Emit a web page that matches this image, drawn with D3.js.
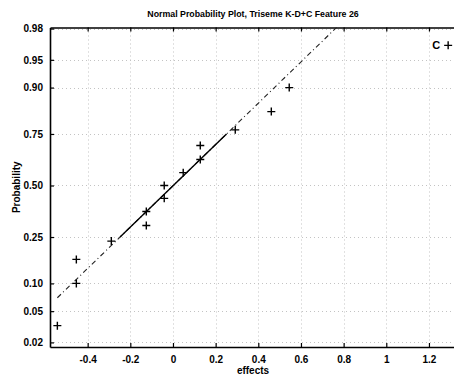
<!DOCTYPE html>
<html>
<head>
<meta charset="utf-8">
<script src="https://cdn.jsdelivr.net/npm/d3@7"></script>
<style>
  html, body { margin: 0; padding: 0; background: #fff; }
  svg { display: block; }
  text { font-family: "Liberation Sans", Arial, Helvetica, sans-serif; fill: #000; }
</style>
</head>
<body>
<svg id="chart" width="454" height="377"></svg>
<script>
// ---- data ----
const effects = [-0.542, -0.453, -0.453, -0.289, -0.125, -0.125, -0.041, -0.041,
                 0.048, 0.128, 0.128, 0.292, 0.461, 0.545, 1.29];
const probabilities = [0.0333, 0.1, 0.1667, 0.2333, 0.3, 0.3667, 0.4333, 0.5,
                       0.5667, 0.6333, 0.7, 0.7667, 0.8333, 0.9, 0.9667];
const pointLabels = ["", "", "", "", "", "", "", "", "", "", "", "", "", "", "C"];
const xTicks = [-0.4, -0.2, 0, 0.2, 0.4, 0.6, 0.8, 1, 1.2];
const xTickLabels = ["-0.4", "-0.2", "0", "0.2", "0.4", "0.6", "0.8", "1", "1.2"];
const yTicks = [0.02, 0.05, 0.10, 0.25, 0.50, 0.75, 0.90, 0.95, 0.98];
const yTickLabels = ["0.02", "0.05", "0.10", "0.25", "0.50", "0.75", "0.90", "0.95", "0.98"];
const title = "Normal Probability Plot, Triseme K-D+C Feature 26";
const xLabel = "effects";
const yLabel = "Probability";

// inverse normal CDF (Acklam)
function norminv(p) {
  const a = [-3.969683028665376e+01, 2.209460984245205e+02, -2.759285104469687e+02, 1.383577518672690e+02, -3.066479806614716e+01, 2.506628277459239e+00];
  const b = [-5.447609879822406e+01, 1.615858368580409e+02, -1.556989798598866e+02, 6.680131188771972e+01, -1.328068155288572e+01];
  const c = [-7.784894002430293e-03, -3.223964580411365e-01, -2.400758277161838e+00, -2.549732539343734e+00, 4.374664141464968e+00, 2.938163982698783e+00];
  const d = [7.784695709041462e-03, 3.224671290700398e-01, 2.445134137142996e+00, 3.754408661907416e+00];
  const pl = 0.02425, ph = 1 - pl;
  let q, r;
  if (p < pl) { q = Math.sqrt(-2 * Math.log(p)); return (((((c[0]*q+c[1])*q+c[2])*q+c[3])*q+c[4])*q+c[5]) / ((((d[0]*q+d[1])*q+d[2])*q+d[3])*q+1); }
  if (p > ph) { q = Math.sqrt(-2 * Math.log(1 - p)); return -(((((c[0]*q+c[1])*q+c[2])*q+c[3])*q+c[4])*q+c[5]) / ((((d[0]*q+d[1])*q+d[2])*q+d[3])*q+1); }
  q = p - 0.5; r = q * q;
  return (((((a[0]*r+a[1])*r+a[2])*r+a[3])*r+a[4])*r+a[5])*q / (((((b[0]*r+b[1])*r+b[2])*r+b[3])*r+b[4])*r+1);
}

const svg = d3.select("#chart");
const L = 50, R = 456, T = 27.5, B = 347;

const x = d3.scaleLinear().domain([-0.5765, 1.3268]).range([L, R]);
const y = d3.scaleLinear().domain([-2.114, 2.068]).range([B, T]);

// clip
svg.append("defs").append("clipPath").attr("id", "plotclip")
  .append("rect").attr("x", L).attr("y", T).attr("width", R - L).attr("height", B - T);

// grid (dotted)
const grid = svg.append("g").attr("stroke", "#888").attr("stroke-width", 1)
  .attr("stroke-dasharray", "1,3").attr("opacity", 0.5);
grid.selectAll("line.gx").data(xTicks).join("line")
  .attr("x1", d => Math.round(x(d)) + 0.5).attr("x2", d => Math.round(x(d)) + 0.5)
  .attr("y1", T).attr("y2", B);
grid.selectAll("line.gy").data(yTicks).join("line")
  .attr("y1", d => Math.round(y(norminv(d))) + 0.5).attr("y2", d => Math.round(y(norminv(d))) + 0.5)
  .attr("x1", L).attr("x2", R);

// axes with inward ticks
const xAxis = d3.axisBottom(x).tickValues(xTicks).tickSizeInner(-4).tickSizeOuter(0)
  .tickFormat((d, i) => xTickLabels[i]).tickPadding(9);
const gx = svg.append("g").attr("transform", `translate(0,${B})`).call(xAxis);
const xTop = d3.axisTop(x).tickValues(xTicks).tickSizeInner(-4).tickSizeOuter(0).tickFormat("");
const gxt = svg.append("g").attr("transform", `translate(0,${T})`).call(xTop);

const yAxis = d3.axisLeft(y).tickValues(yTicks.map(norminv)).tickSizeInner(-4).tickSizeOuter(0)
  .tickFormat((d, i) => yTickLabels[i]).tickPadding(7);
const gy = svg.append("g").attr("transform", `translate(${L},0)`).call(yAxis);

[gx, gxt, gy].forEach(g => {
  g.select(".domain").attr("stroke", "#000").attr("stroke-width", 1.6);
  g.selectAll(".tick line").attr("stroke", "#000").attr("stroke-width", 1.2);
  g.selectAll(".tick text").attr("font-size", 10).attr("font-weight", "bold")
    .attr("font-family", "'Liberation Sans', Arial, sans-serif").attr("fill", "#000");
});

// reference line (MATLAB normplot style): through 25th and 75th percentiles
function prctile(arr, p) {
  const s = arr.slice().sort((a, b) => a - b), n = s.length;
  const pos = p * n + 0.5; // 1-based
  if (pos <= 1) return s[0];
  if (pos >= n) return s[n - 1];
  const i = Math.floor(pos), f = pos - i;
  return s[i - 1] + f * (s[i] - s[i - 1]);
}
const q1x = prctile(effects, 0.25), q3x = prctile(effects, 0.75);
const q1y = norminv(0.25), q3y = norminv(0.75);
const slope = (q3y - q1y) / (q3x - q1x);
const cx = (q1x + q3x) / 2, cy = (q1y + q3y) / 2;
const minx = d3.min(effects), maxx = d3.max(effects);
const lineG = svg.append("g").attr("clip-path", "url(#plotclip)");
lineG.append("line")
  .attr("x1", x(minx)).attr("y1", y(cy + slope * (minx - cx)))
  .attr("x2", x(maxx)).attr("y2", y(cy + slope * (maxx - cx)))
  .attr("stroke", "#222").attr("stroke-width", 1.1).attr("stroke-dasharray", "5,3,1,3");
lineG.append("line")
  .attr("x1", x(q1x)).attr("y1", y(q1y)).attr("x2", x(q3x)).attr("y2", y(q3y))
  .attr("stroke", "#000").attr("stroke-width", 1.4);

// points as "+"
const pts = effects.map((e, i) => ({ e, p: probabilities[i], lab: pointLabels[i] }));
const pg = svg.append("g").attr("stroke", "#000").attr("stroke-width", 1.4);
pg.selectAll("path").data(pts).join("path")
  .attr("d", d => {
    const px = x(d.e), py = y(norminv(d.p));
    return `M${px - 4},${py}H${px + 4}M${px},${py - 4}V${py + 4}`;
  });
svg.append("g").selectAll("text").data(pts.filter(d => d.lab)).join("text")
  .attr("x", d => x(d.e) - 8).attr("y", d => y(norminv(d.p)) + 4)
  .attr("text-anchor", "end").attr("font-size", 11).attr("font-weight", "bold")
  .text(d => d.lab);

// titles
svg.append("text").attr("x", (L + R) / 2).attr("y", 17).attr("text-anchor", "middle")
  .attr("font-size", 8.8).attr("font-weight", "bold").text(title);
svg.append("text").attr("x", (L + R) / 2).attr("y", 374).attr("text-anchor", "middle")
  .attr("font-size", 10).attr("font-weight", "bold").text(xLabel);
svg.append("text").attr("transform", `translate(20,${(T + B) / 2}) rotate(-90)`)
  .attr("text-anchor", "middle").attr("font-size", 10).attr("font-weight", "bold").text(yLabel);
</script>
</body>
</html>
